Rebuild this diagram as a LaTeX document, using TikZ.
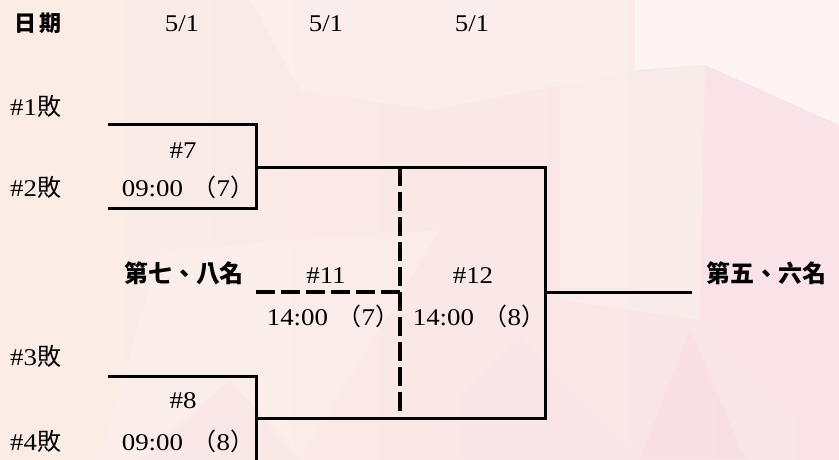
\documentclass[tikz,border=0pt]{standalone}
\usepackage{fontspec}
\setmainfont{Liberation Serif}[FakeStretch=1.12]
\newfontfamily\cjk{Noto Sans CJK TC}
\usetikzlibrary{positioning}
\definecolor{bgA}{HTML}{FBEDE6}
\definecolor{bgB}{HTML}{F9E3E8}
\definecolor{bgC}{HTML}{FDF5F3}
\definecolor{bgD}{HTML}{F8DCE4}
\definecolor{bgE}{HTML}{FCF0EE}
\tikzset{
  txt/.style={inner sep=0pt, anchor=base, font=\fontsize{24}{24}\selectfont},
  head/.style={inner sep=0pt, font=\fontsize{22}{22}\selectfont\cjk\bfseries},
  rank/.style={inner sep=0pt, font=\fontsize{24}{24}\selectfont\cjk\bfseries},
  solidline/.style={line width=3pt, line cap=rect},
  dashline/.style={line width=4pt, dash pattern=on 19pt off 6pt},
}
\newcommand{\fwp}[1]{{\cjk （}#1{\cjk ）}}
\newcommand{\bai}{{\cjk 敗}}
\begin{document}
\begin{tikzpicture}[x=1pt,y=-1pt]
\useasboundingbox (0,0) rectangle (839,459);
% background
\shade[left color=bgA, right color=bgB] (0,0) rectangle (839,459);
\fill[bgE, opacity=0.7] (250,0) -- (640,0) -- (640,70) -- (430,110) -- (300,90) -- cycle;
\fill[bgC] (635,0) -- (839,0) -- (839,125) -- (705,65) -- (635,70) -- cycle;
\fill[bgE, opacity=0.6] (560,80) -- (705,65) -- (700,320) -- (560,300) -- cycle;
\fill[bgB, opacity=0.6] (705,65) -- (839,125) -- (839,459) -- (700,320) -- cycle;
\fill[bgD, opacity=0.5] (690,330) -- (640,459) -- (745,459) -- cycle;
\fill[bgB, opacity=0.3] (400,459) -- (520,340) -- (640,459) -- cycle;
\fill[bgE, opacity=0.5] (160,250) -- (440,230) -- (300,459) -- (100,459) -- cycle;
\fill[bgD, opacity=0.25] (140,459) -- (230,380) -- (300,459) -- cycle;

% header
\node[head] (date) at (38,23) {日\hspace{3pt}期};
\node[txt] (d1) at (182,31) {5/1};
\node[txt] (d2) at (326,31) {5/1};
\node[txt] (d3) at (472,31) {5/1};

% losers
\node[txt, anchor=base west] (l1) at (10,115) {\#1\bai};
\node[txt, anchor=base west] (l2) at (10,196) {\#2\bai};
\node[txt, anchor=base west] (l3) at (10,365) {\#3\bai};
\node[txt, anchor=base west] (l4) at (10,450) {\#4\bai};

% match labels
\node[txt] (m7) at (183,158) {\#7};
\node[txt] (t7) at (188,196) {09:00\hspace{0.4em}\fwp{7}};
\node[txt] (m8) at (183,408) {\#8};
\node[txt] (t8) at (188,450) {09:00\hspace{0.4em}\fwp{8}};
\node[rank] (r78) at (184,273) {第七、八名};
\node[txt] (m11) at (326,283) {\#11};
\node[txt] (t11) at (333,325) {14:00\hspace{0.4em}\fwp{7}};
\node[txt] (m12) at (473,283) {\#12};
\node[txt] (t12) at (479,325) {14:00\hspace{0.4em}\fwp{8}};
\node[rank] (r56) at (766,273) {第五、六名};

% bracket coordinates
\coordinate (a1) at (109,124);
\coordinate (a2) at (256,124);
\coordinate (a3) at (256,208);
\coordinate (a4) at (109,208);
\coordinate (a5) at (256,167);
\coordinate (b1) at (545,167);
\coordinate (b2) at (545,418);
\coordinate (b3) at (256,418);
\coordinate (c1) at (109,376);
\coordinate (c2) at (256,376);
\coordinate (c3) at (256,462);
\coordinate (p1) at (400,167);
\coordinate (p2) at (400,418);
\coordinate (p3) at (400,292);
\coordinate (p4) at (254,292);
\coordinate (f1) at (545,292);
\coordinate (f2) at (690,292);

\draw[solidline] (a1) -- (a2) -- (a3) -- (a4);
\draw[solidline] (a5) -- (b1) -- (b2) -- (b3);
\draw[solidline] (c1) -- (c2) -- (c3);
\draw[solidline] (f1) -- (f2);
\draw[dashline] (p1) -- (p2);
\draw[dashline] (p3) -- (p4);
\end{tikzpicture}
\end{document}
